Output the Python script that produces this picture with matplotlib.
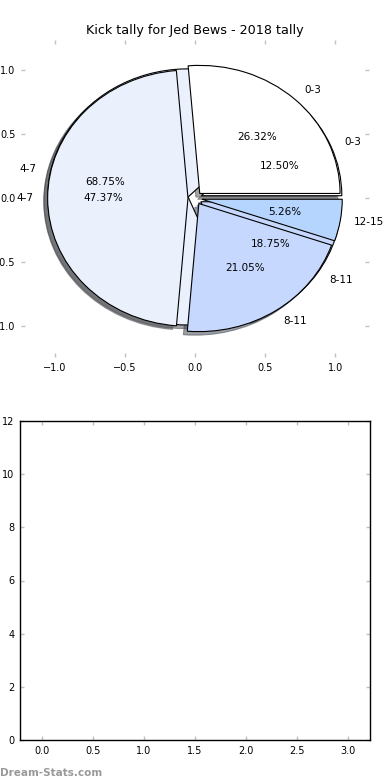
import matplotlib
matplotlib.use("Agg")
import matplotlib.pyplot as plt

title = "Kick tally for Jed Bews - 2018 tally"
labels_a = ["0-3", "4-7", "8-11", "12-15"]
values_a = [26.32, 47.37, 21.05, 5.26]
labels_b = ["0-3", "4-7", "8-11"]
values_b = [12.50, 68.75, 18.75]
colors = ["#ffffff", "#eaf1fd", "#c6d8fd", "#b5d5fe"]
bar_xlim = (-0.216, 3.216)
bar_ylim = (0, 12)

fig = plt.figure(figsize=(3.9, 7.8), dpi=100)

tick_kw = dict(direction="in", length=3, width=1, color="#c0c0c0",
               labelsize=7, top=True, right=True, pad=4)

ax1 = fig.add_axes([21/390, 1-357/780, 348/390, 317/780])
wedge_kw = dict(edgecolor="black", linewidth=0.8)
ax1.pie(values_b, labels=labels_b, colors=colors[:3], explode=[0.05]*3,
        autopct="%1.2f%%", shadow=True, counterclock=True, startangle=0,
        wedgeprops=wedge_kw, textprops=dict(fontsize=7.5), frame=True)
ax1.pie(values_a, labels=labels_a, colors=colors, explode=[0.05]*4,
        autopct="%1.2f%%", shadow=True, counterclock=True, startangle=0,
        wedgeprops=wedge_kw, textprops=dict(fontsize=7.5), frame=True)
ax1.set_aspect("auto")
ax1.set_xlim(-1.24, 1.24)
ax1.set_ylim(-1.24, 1.235)
ax1.set_xticks([-1.0, -0.5, 0.0, 0.5, 1.0])
ax1.set_yticks([-1.0, -0.5, 0.0, 0.5, 1.0])
ax1.tick_params(**tick_kw)
for s in ax1.spines.values():
    s.set_visible(False)
ax1.set_title(title, fontsize=9.2, pad=4)

ax2 = fig.add_axes([20/390, 1-740/780, 350/390, 319/780])
ax2.set_xlim(*bar_xlim)
ax2.set_ylim(*bar_ylim)
ax2.set_xticks([0.0, 0.5, 1.0, 1.5, 2.0, 2.5, 3.0])
ax2.set_yticks([0, 2, 4, 6, 8, 10, 12])
ax2.tick_params(**tick_kw)
for s in ax2.spines.values():
    s.set_color("black")
    s.set_linewidth(1)

fig.text(0.0, 0.003, "Dream-Stats.com", fontsize=7.5, color="#999999",
         fontweight="bold", ha="left", va="bottom")

fig.savefig("out.png", dpi=100)
